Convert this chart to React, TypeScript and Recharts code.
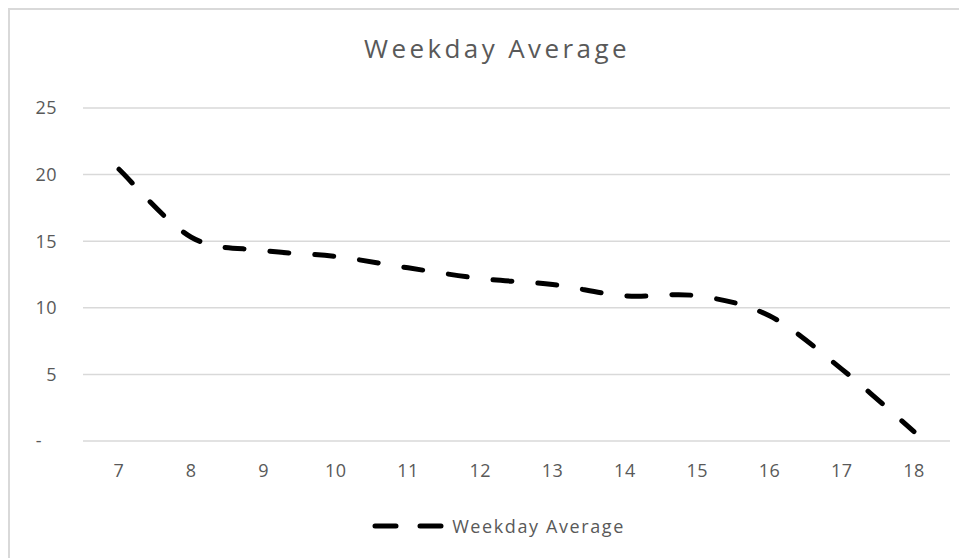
import { LineChart, Line, XAxis, YAxis, CartesianGrid, Legend } from 'recharts'

// ─── data ────────────────────

const hours = ['7', '8', '9', '10', '11', '12', '13', '14', '15', '16', '17', '18']
const weekdayAverage = [20.4, 15.3, 14.3, 13.85, 13.0, 12.2, 11.75, 10.9, 10.9, 9.4, 5.4, 0.7]
const yTicks = [0, 5, 10, 15, 20, 25]

const seriesName = 'Weekday Average'
const title = 'Weekday Average'

const data = hours.map((h, i) => ({ hour: h, value: weekdayAverage[i] }))

const TEXT = '#595959'
const GRID = '#d9d9d9'
const FONT = '"Open Sans", sans-serif'

// excel-like smoothed line (catmull-rom style bezier)
function excelCurve(context: any) {
  let pts: [number, number][] = []
  return {
    areaStart() {},
    areaEnd() {},
    lineStart() {
      pts = []
    },
    point(x: number, y: number) {
      pts.push([+x, +y])
    },
    lineEnd() {
      if (!pts.length) return
      context.moveTo(pts[0][0], pts[0][1])
      for (let i = 0; i < pts.length - 1; i++) {
        const p0 = pts[i - 1] ?? pts[i]
        const p1 = pts[i]
        const p2 = pts[i + 1]
        const p3 = pts[i + 2] ?? p2
        context.bezierCurveTo(
          p1[0] + (p2[0] - p0[0]) / 6,
          p1[1] + (p2[1] - p0[1]) / 6,
          p2[0] - (p3[0] - p1[0]) / 6,
          p2[1] - (p3[1] - p1[1]) / 6,
          p2[0],
          p2[1]
        )
      }
    },
  }
}

// excel accounting style: zero shows as a dash
function YTick(props: any) {
  const { x, y, payload } = props
  const v = payload.value as number
  return (
    <text
      x={v === 0 ? x - 15 : x}
      y={y}
      dy="0.355em"
      textAnchor="end"
      fill={TEXT}
      fontSize={18}
      fontFamily={FONT}
      letterSpacing={0.5}
    >
      {v === 0 ? '-' : v}
    </text>
  )
}

function LegendContent() {
  return (
    <div
      style={{
        height: 30,
        display: 'flex',
        alignItems: 'center',
        justifyContent: 'center',
        paddingLeft: 37,
        fontFamily: FONT,
        fontSize: 18,
        letterSpacing: 1.6,
        color: TEXT,
      }}
    >
      <svg width={72} height={10} style={{ marginRight: 8 }}>
        <line
          x1={3}
          y1={5}
          x2={69}
          y2={5}
          stroke="#000"
          strokeWidth={5}
          strokeLinecap="round"
          strokeDasharray="21 24"
        />
      </svg>
      <span>{seriesName}</span>
    </div>
  )
}

export default function App() {
  return (
    <div
      style={{
        position: 'relative',
        width: 957,
        height: 550,
        borderTop: `2px solid ${GRID}`,
        borderLeft: `2px solid ${GRID}`,
        background: '#fff',
      }}
    >
      <div
        style={{
          position: 'absolute',
          left: 0,
          top: 20,
          width: 974,
          textAlign: 'center',
          fontFamily: FONT,
          fontSize: 26,
          color: TEXT,
          letterSpacing: 3.4,
        }}
      >
        {title}
      </div>
      <LineChart
        width={957}
        height={548}
        data={data}
        margin={{ top: 98, right: 17, left: 0, bottom: 17 }}
      >
        <CartesianGrid vertical={false} stroke={GRID} strokeWidth={1.5} />
        <XAxis
          dataKey="hour"
          axisLine={false}
          tickLine={false}
          height={70}
          tickMargin={17}
          padding={{ left: 36, right: 36 }}
          tick={{ fill: TEXT, fontSize: 18, fontFamily: FONT, letterSpacing: 0.5 }}
        />
        <YAxis
          domain={[0, 25]}
          ticks={yTicks}
          width={73}
          axisLine={false}
          tickLine={false}
          tickMargin={20}
          tick={<YTick />}
        />
        <Legend verticalAlign="bottom" content={<LegendContent />} />
        <Line
          type={excelCurve as any}
          dataKey="value"
          name={seriesName}
          stroke="#000"
          strokeWidth={5}
          strokeLinecap="round"
          strokeDasharray="19 26"
          dot={false}
          activeDot={false}
          isAnimationActive={false}
        />
      </LineChart>
    </div>
  )
}
